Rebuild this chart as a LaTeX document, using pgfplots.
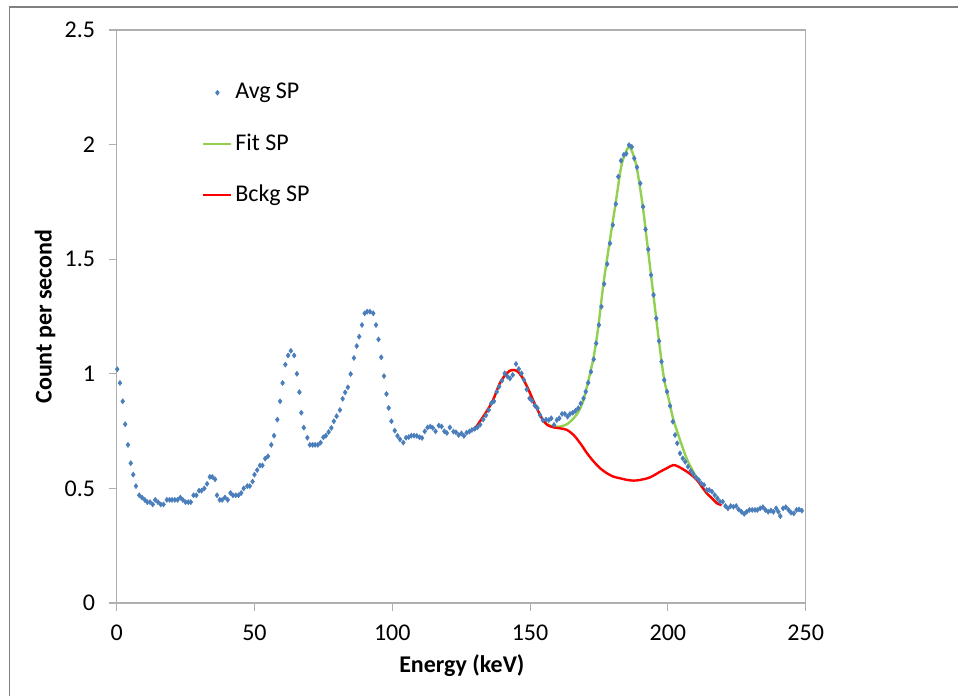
\documentclass[border=0pt]{standalone}
\usepackage{pgfplots}
\pgfplotsset{compat=1.18}
\usepackage{fontspec}
\setmainfont{Carlito}
\definecolor{ptblue}{RGB}{74,126,187}
\definecolor{fitgreen}{RGB}{146,208,80}
\definecolor{axgray}{RGB}{175,175,175}
\definecolor{framegray}{RGB}{128,128,128}
\pgfplotstableread{
E v
0.2 1.02
1.2 0.96
2.2 0.88
3.1 0.78
4.1 0.69
5.1 0.61
6.0 0.56
7.0 0.51
8.2 0.47
9.2 0.46
10.2 0.45
11.1 0.44
12.1 0.44
13.1 0.43
14.0 0.45
15.0 0.44
16.0 0.43
17.0 0.43
18.2 0.45
19.2 0.45
20.1 0.45
21.1 0.45
22.1 0.45
23.1 0.46
24.0 0.45
25.0 0.44
26.0 0.44
26.9 0.44
27.9 0.47
28.9 0.47
29.9 0.49
30.8 0.49
31.8 0.50
32.8 0.52
33.8 0.55
34.7 0.55
35.7 0.54
36.4 0.47
37.4 0.45
38.3 0.45
39.3 0.46
40.3 0.45
41.3 0.48
42.2 0.47
43.2 0.47
44.2 0.47
45.2 0.48
46.1 0.50
47.4 0.51
48.3 0.51
49.3 0.53
50.0 0.56
51.0 0.58
52.0 0.60
52.9 0.60
53.9 0.63
54.9 0.64
56.1 0.69
57.1 0.73
58.3 0.80
59.3 0.88
60.2 0.96
61.2 1.04
62.2 1.08
63.2 1.10
64.4 1.08
65.4 1.00
66.3 0.92
67.0 0.83
67.9 0.765
69.2 0.721
70.1 0.69
71.1 0.69
72.0 0.69
73.0 0.69
74.0 0.70
75.0 0.723
75.9 0.73
76.9 0.746
77.9 0.764
78.8 0.793
79.8 0.815
81.0 0.842
82.0 0.891
82.9 0.919
83.9 0.941
84.9 0.999
86.1 1.069
87.1 1.121
88.0 1.162
89.0 1.213
90.0 1.264
90.9 1.271
91.9 1.271
93.1 1.264
94.1 1.213
95.0 1.150
96.0 1.072
97.0 0.990
97.9 0.912
98.7 0.851
99.7 0.793
100.9 0.752
101.9 0.729
102.8 0.714
104.0 0.70
105.0 0.721
106.0 0.724
106.9 0.73
107.9 0.73
108.9 0.729
109.9 0.723
110.8 0.72
111.8 0.749
112.8 0.766
113.8 0.77
114.7 0.764
115.7 0.749
116.9 0.774
117.9 0.77
118.9 0.749
119.8 0.742
120.9 0.766
122.2 0.748
123.1 0.745
124.1 0.733
125.1 0.740
126.0 0.729
127.0 0.743
128.0 0.748
128.9 0.755
129.9 0.760
130.9 0.766
131.9 0.778
133.0 0.801
134.0 0.819
135.0 0.842
135.9 0.871
136.9 0.88
137.9 0.921
138.8 0.944
139.8 0.970
140.8 1.002
141.8 0.988
142.7 0.98
143.7 0.995
144.9 1.043
145.9 1.021
146.9 1.002
147.8 0.973
148.8 0.932
149.8 0.893
150.7 0.882
151.7 0.862
152.7 0.85
153.6 0.820
154.6 0.798
155.8 0.80
156.8 0.798
157.7 0.806
158.7 0.777
159.7 0.798
160.6 0.806
161.6 0.825
162.6 0.825
163.6 0.813
164.5 0.825
165.5 0.83
166.5 0.839
167.5 0.85
168.4 0.871
169.4 0.893
170.2 0.922
171.1 0.961
172.1 1.009
173.1 1.063
174.0 1.133
175.0 1.213
175.9 1.293
176.9 1.392
178.0 1.479
179.0 1.569
180.0 1.649
181.1 1.741
182.0 1.860
183.0 1.930
184.0 1.955
184.9 1.96
185.9 1.998
186.9 1.99
187.8 1.940
188.8 1.901
190.0 1.831
191.0 1.729
191.9 1.630
192.9 1.543
193.9 1.431
194.8 1.344
195.8 1.242
196.8 1.143
197.7 1.053
198.7 0.973
199.7 0.922
200.8 0.86
201.8 0.791
202.6 0.733
203.4 0.697
204.4 0.653
205.4 0.631
206.3 0.616
207.3 0.595
208.3 0.577
209.2 0.563
210.2 0.548
211.2 0.537
212.1 0.522
213.1 0.515
214.1 0.493
215.0 0.493
216.0 0.486
217.0 0.471
218.0 0.457
218.9 0.442
219.9 0.442
220.9 0.423
221.8 0.413
222.8 0.423
223.8 0.42
224.8 0.423
225.7 0.408
226.7 0.398
227.7 0.389
228.6 0.398
229.6 0.406
230.6 0.406
231.6 0.406
232.5 0.406
233.5 0.413
234.5 0.418
235.4 0.406
236.4 0.398
237.4 0.403
238.3 0.398
239.3 0.413
240.1 0.398
240.8 0.379
241.8 0.413
242.8 0.418
243.8 0.406
244.7 0.394
245.7 0.391
246.7 0.406
247.6 0.408
248.6 0.403
}\avgsp
\pgfplotstableread{
E v
130.0 0.760
131.7 0.790
134.2 0.835
136.6 0.886
139.0 0.958
141.5 1.002
143.3 1.016
145.2 1.013
147.0 0.988
149.5 0.929
151.9 0.863
154.3 0.806
156.2 0.780
158.6 0.770
161.0 0.770
163.4 0.780
165.8 0.806
167.6 0.835
169.4 0.886
171.2 0.973
173.1 1.075
174.7 1.200
176.6 1.390
178.8 1.570
181.0 1.740
183.0 1.900
184.5 1.960
185.8 1.990
187.0 1.970
188.7 1.900
190.9 1.730
192.8 1.540
194.7 1.350
196.7 1.150
198.6 0.980
200.5 0.880
202.0 0.800
204.4 0.712
206.8 0.631
209.2 0.573
211.6 0.522
214.1 0.479
216.0 0.457
218.0 0.437
}\fitsp
\pgfplotstableread{
E v
130.0 0.760
131.7 0.790
134.2 0.835
136.6 0.886
139.0 0.958
141.5 1.002
143.3 1.016
145.2 1.013
147.0 0.988
149.5 0.929
151.9 0.863
154.3 0.806
156.2 0.777
158.6 0.766
161.0 0.762
163.4 0.755
165.8 0.733
168.2 0.697
170.7 0.653
173.1 0.617
175.5 0.587
177.9 0.566
180.3 0.551
182.7 0.544
185.2 0.537
187.6 0.534
190.0 0.537
193.5 0.548
197.2 0.573
199.6 0.588
202.0 0.602
203.8 0.595
205.6 0.583
208.1 0.563
210.5 0.537
212.3 0.508
214.1 0.479
216.0 0.457
217.8 0.435
219.5 0.427
}\bckgsp
\begin{document}
\fontsize{18pt}{21pt}\selectfont
\begin{tikzpicture}
\path[use as bounding box] (0,0) rectangle (718.5pt,522pt);
\draw[framegray, line width=1pt] (7.1pt,0) -- (7.1pt,516.75pt) -- (718.5pt,516.75pt);
\begin{axis}[
 at={(87.5pt,69.75pt)}, anchor=south west,
 scale only axis, width=516.75pt, height=429.75pt,
 xmin=0, xmax=250, ymin=0, ymax=2.5,
 xtick={0,50,...,250}, ytick={0,0.5,...,2.5},
 tick pos=left,
 axis line style={axgray, line width=0.8pt},
 tick style={axgray, line width=0.8pt},
 tick align=outside, major tick length=6pt,
 /pgf/number format/assume math mode=true,
 ticklabel style={font=\fontsize{18pt}{21pt}\selectfont},
 yticklabel style={xshift=-4pt},
 xticklabel style={yshift=-4pt},
 label style={font=\fontsize{18pt}{21pt}\selectfont\bfseries},
 xlabel={Energy (keV)}, ylabel={Count per second},
 xlabel style={at={(axis description cs:0.501,-0.11)}, anchor=center},
 ylabel style={at={(axis description cs:-0.104,0.5)}, anchor=center},
 legend cell align=left,
 legend style={draw=none, fill=none, at={(axis description cs:0.118,0.917)}, anchor=north west,
   row sep=19.5pt, font=\fontsize{18pt}{21pt}\selectfont},
 legend image code/.code={\draw[mark repeat=2,mark phase=2,#1] plot coordinates {(0pt,0pt) (10.5pt,0pt) (21pt,0pt)};},
]
\addplot[only marks, mark=diamond*, mark size=1.9pt, color=ptblue] table[x=E,y=v] {\avgsp};
\addlegendentry{Avg SP}
\addplot[fitgreen, line width=1.8pt, smooth, tension=0.5] table[x=E,y=v] {\fitsp};
\addlegendentry{Fit SP}
\addplot[red, line width=1.8pt, smooth, tension=0.5] table[x=E,y=v] {\bckgsp};
\addlegendentry{Bckg SP}
\end{axis}
\end{tikzpicture}
\end{document}
